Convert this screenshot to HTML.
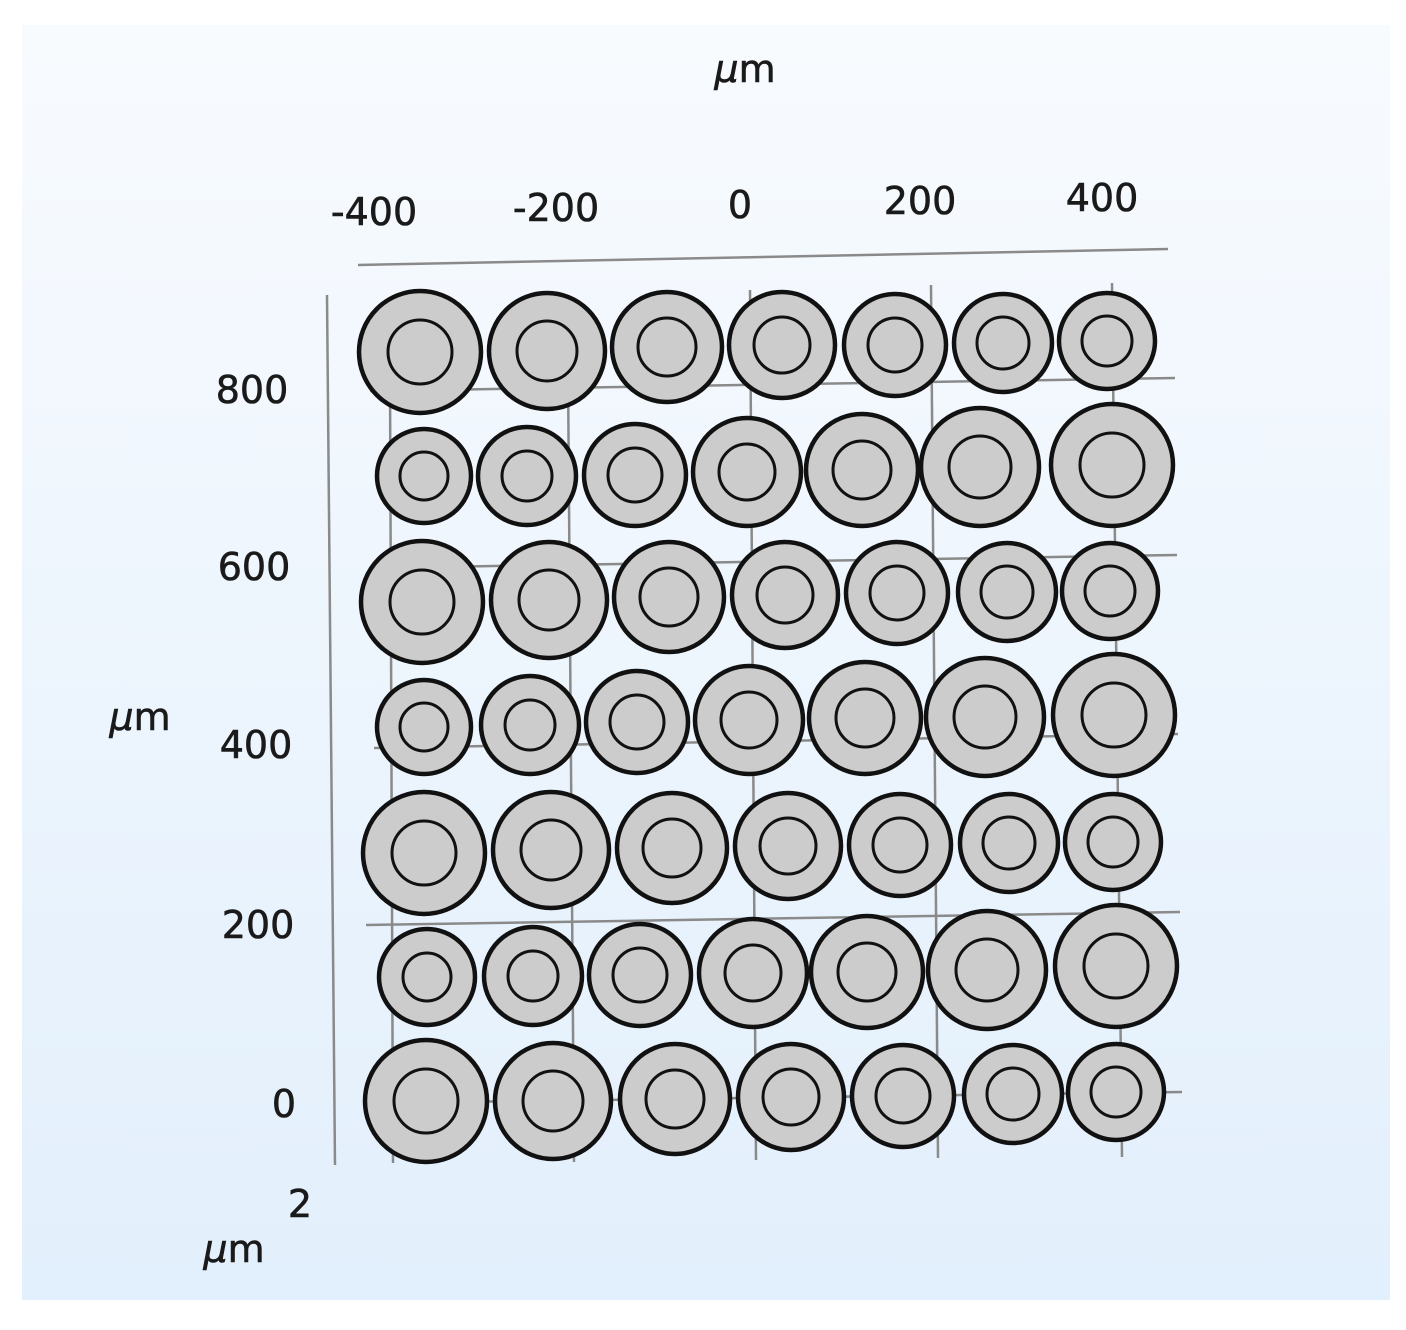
<!DOCTYPE html>
<html><head><meta charset="utf-8"><style>
html,body{margin:0;padding:0;background:#fff;}
svg{display:block;}
text{font-family:"DejaVu Sans","Liberation Sans",sans-serif;fill:#1a1a1a;stroke:#1a1a1a;stroke-width:0.6;}
</style></head><body>
<svg width="1406" height="1330" viewBox="0 0 1406 1330" xmlns="http://www.w3.org/2000/svg">
<defs>
<linearGradient id="bg" x1="0" y1="0" x2="0" y2="1">
<stop offset="0" stop-color="#f8fbfe"/>
<stop offset="1" stop-color="#e2effc"/>
</linearGradient>
</defs>
<rect x="22" y="25" width="1368" height="1275" fill="url(#bg)"/>
<g stroke="#8a8a8a" stroke-width="2.5" fill="none">
<line x1="358" y1="265" x2="1168" y2="249"/>
<line x1="327" y1="295" x2="335" y2="1165"/>
<line x1="390" y1="380" x2="393" y2="1163"/>
<line x1="568" y1="370" x2="574" y2="1162"/>
<line x1="750" y1="290" x2="756" y2="1160"/>
<line x1="931" y1="285" x2="938" y2="1158"/>
<line x1="1112" y1="283" x2="1122" y2="1157"/>
<line x1="370" y1="391" x2="1175" y2="378"/>
<line x1="372" y1="568" x2="1177" y2="555"/>
<line x1="374" y1="748" x2="1178" y2="734"/>
<line x1="366" y1="925" x2="1180" y2="912"/>
<line x1="380" y1="1103" x2="1182" y2="1092"/>
</g>
<g fill="#cccccc" stroke="#111" stroke-width="4.5">
<circle cx="420" cy="352" r="61"/><circle cx="547" cy="351" r="58"/><circle cx="667" cy="347" r="55"/><circle cx="782" cy="345" r="53"/><circle cx="895" cy="345" r="51"/><circle cx="1003" cy="343" r="49"/><circle cx="1107" cy="341" r="48"/>
<circle cx="424" cy="476" r="47"/><circle cx="527" cy="476" r="49"/><circle cx="635" cy="475" r="51"/><circle cx="747" cy="472" r="54"/><circle cx="862" cy="470" r="56"/><circle cx="980" cy="467" r="59"/><circle cx="1112" cy="465" r="61"/>
<circle cx="422" cy="602" r="61"/><circle cx="549" cy="600" r="58"/><circle cx="669" cy="597" r="55"/><circle cx="785" cy="595" r="53"/><circle cx="897" cy="593" r="51"/><circle cx="1007" cy="592" r="49"/><circle cx="1110" cy="591" r="48"/>
<circle cx="424" cy="727" r="47"/><circle cx="530" cy="725" r="49"/><circle cx="637" cy="722" r="51"/><circle cx="749" cy="720" r="54"/><circle cx="865" cy="718" r="56"/><circle cx="985" cy="717" r="59"/><circle cx="1114" cy="715" r="61"/>
<circle cx="424" cy="853" r="61"/><circle cx="551" cy="850" r="58"/><circle cx="672" cy="848" r="55"/><circle cx="788" cy="846" r="53"/><circle cx="900" cy="845" r="51"/><circle cx="1009" cy="843" r="49"/><circle cx="1113" cy="842" r="48"/>
<circle cx="427" cy="977" r="48"/><circle cx="533" cy="976" r="49"/><circle cx="640" cy="975" r="51"/><circle cx="753" cy="973" r="54"/><circle cx="867" cy="972" r="56"/><circle cx="987" cy="970" r="59"/><circle cx="1116" cy="966" r="61"/>
<circle cx="426" cy="1101" r="61"/><circle cx="553" cy="1101" r="58"/><circle cx="675" cy="1099" r="55"/><circle cx="791" cy="1097" r="53"/><circle cx="903" cy="1096" r="51"/><circle cx="1013" cy="1094" r="49"/><circle cx="1116" cy="1092" r="48"/>
</g>
<g fill="none" stroke="#111" stroke-width="3">
<circle cx="420" cy="352" r="32"/><circle cx="547" cy="351" r="30"/><circle cx="667" cy="347" r="29"/><circle cx="782" cy="345" r="28"/><circle cx="895" cy="345" r="27"/><circle cx="1003" cy="343" r="26"/><circle cx="1107" cy="341" r="25"/>
<circle cx="424" cy="476" r="24"/><circle cx="527" cy="476" r="25"/><circle cx="635" cy="475" r="27"/><circle cx="747" cy="472" r="28"/><circle cx="862" cy="470" r="29"/><circle cx="980" cy="467" r="31"/><circle cx="1112" cy="465" r="32"/>
<circle cx="422" cy="602" r="32"/><circle cx="549" cy="600" r="30"/><circle cx="669" cy="597" r="29"/><circle cx="785" cy="595" r="28"/><circle cx="897" cy="593" r="27"/><circle cx="1007" cy="592" r="26"/><circle cx="1110" cy="591" r="25"/>
<circle cx="424" cy="727" r="24"/><circle cx="530" cy="725" r="25"/><circle cx="637" cy="722" r="27"/><circle cx="749" cy="720" r="28"/><circle cx="865" cy="718" r="29"/><circle cx="985" cy="717" r="31"/><circle cx="1114" cy="715" r="32"/>
<circle cx="424" cy="853" r="32"/><circle cx="551" cy="850" r="30"/><circle cx="672" cy="848" r="29"/><circle cx="788" cy="846" r="28"/><circle cx="900" cy="845" r="27"/><circle cx="1009" cy="843" r="26"/><circle cx="1113" cy="842" r="25"/>
<circle cx="427" cy="977" r="24"/><circle cx="533" cy="976" r="25"/><circle cx="640" cy="975" r="27"/><circle cx="753" cy="973" r="28"/><circle cx="867" cy="972" r="29"/><circle cx="987" cy="970" r="31"/><circle cx="1116" cy="966" r="32"/>
<circle cx="426" cy="1101" r="32"/><circle cx="553" cy="1101" r="30"/><circle cx="675" cy="1099" r="29"/><circle cx="791" cy="1097" r="28"/><circle cx="903" cy="1096" r="27"/><circle cx="1013" cy="1094" r="26"/><circle cx="1116" cy="1092" r="25"/>
</g>
<g font-size="38" text-anchor="middle">
<text x="745" y="82"><tspan font-style="italic">μ</tspan>m</text>
<text x="374" y="225">-400</text>
<text x="556" y="221">-200</text>
<text x="740" y="218">0</text>
<text x="920" y="214">200</text>
<text x="1102" y="211">400</text>
<text x="252" y="403">800</text>
<text x="254" y="580">600</text>
<text x="256" y="758">400</text>
<text x="258" y="938">200</text>
<text x="284" y="1117">0</text>
<text x="140" y="730"><tspan font-style="italic">μ</tspan>m</text>
<text x="300" y="1217">2</text>
<text x="234" y="1262"><tspan font-style="italic">μ</tspan>m</text>
</g>
</svg>
</body></html>
